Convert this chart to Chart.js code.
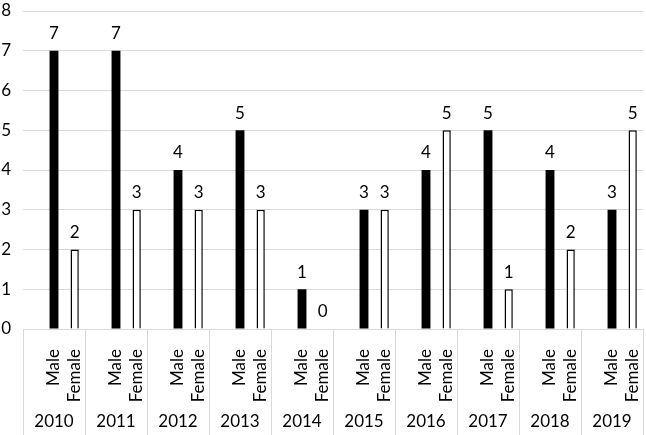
<!DOCTYPE html>
<html>
<head>
<meta charset="utf-8">
<script src="https://cdn.jsdelivr.net/npm/chart.js@4/dist/chart.umd.min.js"></script>
<style>
  body { margin: 0; background: #fff; }
  #wrap { width: 646px; height: 435px; }
</style>
</head>
<body>
<div id="wrap"><canvas id="monGraphique"></canvas></div>
<script>
// les données
const years = ['2010', '2011', '2012', '2013', '2014', '2015', '2016', '2017', '2018', '2019'];
const subLabels = ['', 'Male', 'Female'];
const male = [7, 7, 4, 5, 1, 3, 4, 5, 4, 3];
const female = [2, 3, 3, 3, 0, 3, 5, 1, 2, 5];
const yTicks = [0, 1, 2, 3, 4, 5, 6, 7, 8];

const FONT = 'Lato';
const FONT_SIZE = 17;
const TEXT = '#000';
const GRID = '#d9d9d9';

// 3 cases par année : vide, Male, Female
const labels = [];
const maleData = [];
const femaleData = [];
years.forEach((y, i) => {
    labels.push(...subLabels);
    maleData.push(null, male[i], null);
    femaleData.push(null, null, female[i]);
});

// valeurs au-dessus des barres
const valeurs = {
    id: 'valeurs',
    afterDatasetsDraw(chart) {
        const ctx = chart.ctx;
        ctx.save();
        ctx.font = FONT_SIZE + 'px ' + FONT;
        ctx.fillStyle = TEXT;
        ctx.textAlign = 'center';
        ctx.textBaseline = 'middle';
        chart.data.datasets.forEach((ds, di) => {
            chart.getDatasetMeta(di).data.forEach((bar, i) => {
                const v = ds.data[i];
                if (v === null || v === undefined) return;
                ctx.fillText(String(v), bar.x, bar.y - 17);
            });
        });
        ctx.restore();
    }
};

// cadres et années sous l'axe
const annees = {
    id: 'annees',
    afterDraw(chart) {
        const ctx = chart.ctx;
        const x = chart.scales.x;
        const area = chart.chartArea;
        const step = area.width / years.length;
        ctx.save();
        ctx.strokeStyle = GRID;
        ctx.lineWidth = 1;
        for (let g = 0; g <= years.length; g++) {
            let px;
            if (g === 0) px = area.left;
            else if (g === years.length) px = area.right;
            else px = (x.getPixelForValue(g * 3 - 1) + x.getPixelForValue(g * 3)) / 2;
            px = Math.round(px) + 0.5;
            ctx.beginPath();
            ctx.moveTo(px, area.bottom);
            ctx.lineTo(px, chart.height);
            ctx.stroke();
        }
        ctx.font = FONT_SIZE + 'px ' + FONT;
        ctx.fillStyle = TEXT;
        ctx.textAlign = 'center';
        ctx.textBaseline = 'middle';
        years.forEach((y, i) => {
            const a = x.getPixelForValue(i * 3) - step / 6;
            ctx.fillText(y, a + step / 2, 422);
        });
        ctx.restore();
    }
};

const ctx = document.getElementById('monGraphique').getContext('2d');
new Chart(ctx, {
    type: 'bar',
    data: {
        labels: labels,
        datasets: [
            {
                label: 'Male',
                data: maleData,
                backgroundColor: '#000',
                borderColor: '#000',
                borderWidth: 0,
                grouped: false,
                categoryPercentage: 1,
                barPercentage: 0.43
            },
            {
                label: 'Female',
                data: femaleData,
                backgroundColor: '#fff',
                borderColor: '#000',
                borderWidth: 1.5,
                grouped: false,
                categoryPercentage: 1,
                barPercentage: 0.4
            }
        ]
    },
    options: {
        responsive: true,
        maintainAspectRatio: false,
        animation: false,
        layout: { padding: { top: 11, right: 3, left: 0, bottom: 0 } },
        plugins: {
            legend: { display: false },
            tooltip: { enabled: false }
        },
        scales: {
            x: {
                grid: { display: false },
                border: { display: true, color: GRID, width: 1 },
                ticks: {
                    autoSkip: false,
                    minRotation: 90,
                    maxRotation: 90,
                    padding: 12,
                    color: TEXT,
                    font: { family: FONT, size: FONT_SIZE }
                },
                afterFit(s) {
                    s.height = 106;
                    s.paddingLeft = 0; s.paddingRight = 0;
                    s.paddingTop = 0; s.paddingBottom = 0;
                }
            },
            y: {
                min: 0,
                max: 8,
                afterBuildTicks(s) { s.ticks = yTicks.map(v => ({ value: v })); },
                grid: { color: GRID, drawTicks: false },
                border: { display: false },
                ticks: {
                    padding: 12,
                    color: TEXT,
                    font: { family: FONT, size: FONT_SIZE }
                },
                afterFit(s) {
                    s.width = 23;
                    s.paddingTop = 0; s.paddingBottom = 0;
                }
            }
        }
    },
    plugins: [valeurs, annees]
});
</script>
</body>
</html>
